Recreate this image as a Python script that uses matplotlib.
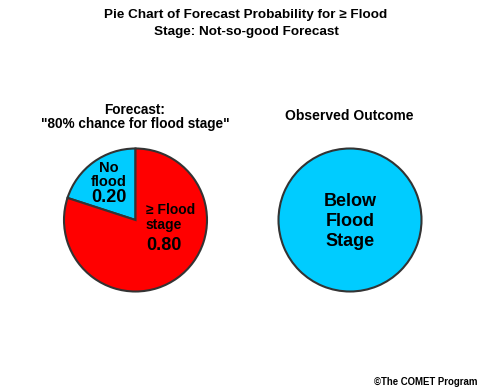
import matplotlib
matplotlib.use("Agg")
from matplotlib import pyplot as plt

plt.rcParams['font.family'] = ['Liberation Sans', 'DejaVu Sans']
plt.rcParams['font.weight'] = 'bold'

W, H = 489, 392

title_lines = ["Pie Chart of Forecast Probability for \u2265 Flood",
               "Stage: Not-so-good Forecast"]
forecast_title = ["Forecast:", "\"80% chance for flood stage\""]
observed_title = "Observed Outcome"

forecast_values = [0.20, 0.80]
forecast_colors = ['#00CCFF', '#FF0000']
observed_values = [1.0]
observed_colors = ['#00CCFF']

fig = plt.figure(figsize=(W / 100, H / 100), dpi=100)
ax = fig.add_axes([0, 0, 1, 1])

wp = dict(edgecolor='#333333', linewidth=1.5)
ax.pie(forecast_values, colors=forecast_colors, startangle=90, counterclock=True,
       center=(135.5, H - 220), radius=71.5, wedgeprops=wp, frame=True)
ax.pie(observed_values, colors=observed_colors, startangle=90,
       center=(350, H - 220), radius=71.5, wedgeprops=wp, frame=True)

ax.set_xlim(0, W)
ax.set_ylim(0, H)
ax.set_aspect('equal')
ax.axis('off')

def txt(x, y, s, size, ha='center'):
    # y is the baseline, in pixels from the top
    ax.text(x, H - y, s, fontsize=size, ha=ha, va='baseline', fontweight='bold')

txt(246, 18, title_lines[0], 9.7)
txt(246, 35, title_lines[1], 9.7)
txt(135, 114, forecast_title[0], 9.8)
txt(135, 128, forecast_title[1], 9.8)
txt(349, 120, observed_title, 10)

txt(109, 172, "No", 10.5)
txt(109, 185.5, "flood", 10.5)
txt(109, 201.5, "%.2f" % forecast_values[0], 13)
txt(146, 214, "\u2265 Flood", 10, ha='left')
txt(146, 228.5, "stage", 10, ha='left')
txt(164, 250, "%.2f" % forecast_values[1], 13)

txt(350, 206, "Below", 13)
txt(350, 226, "Flood", 13)
txt(350, 246.5, "Stage", 13)

txt(426, 385, "\u00a9The COMET Program", 6.9)

fig.savefig("out.png", dpi=100)
